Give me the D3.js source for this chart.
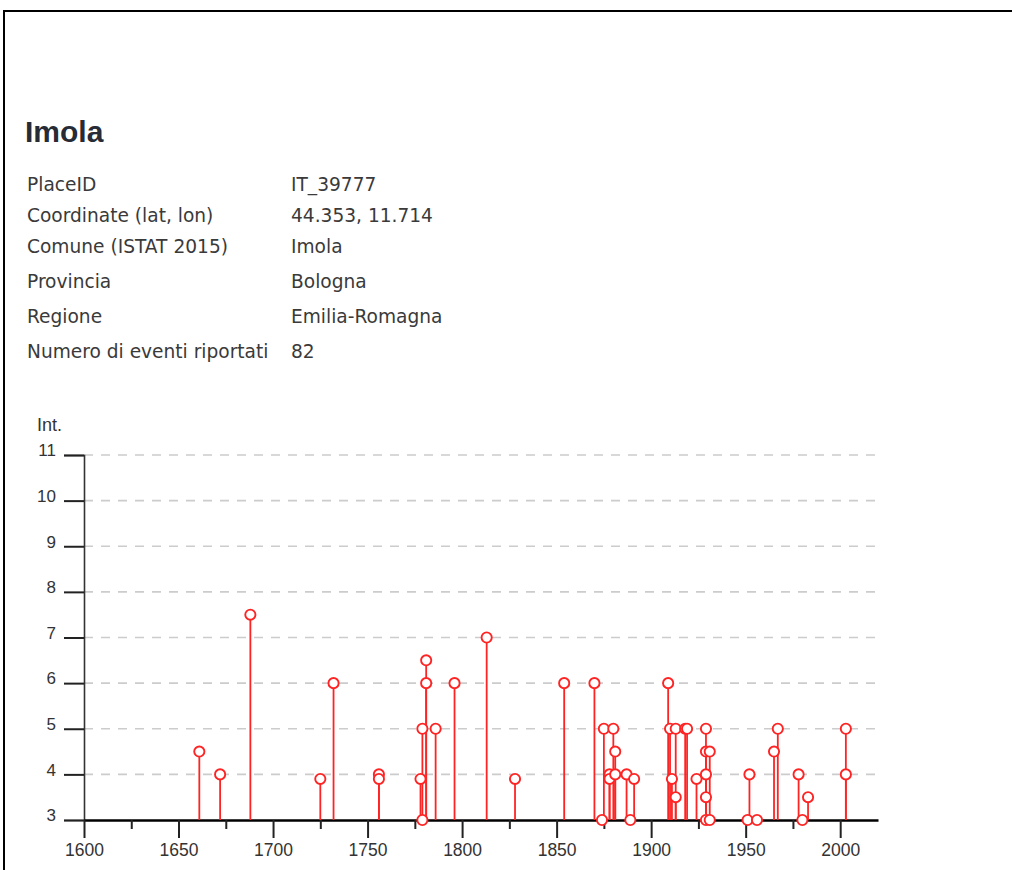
<!DOCTYPE html>
<html>
<head>
<meta charset="utf-8">
<script src="https://cdn.jsdelivr.net/npm/d3@7"></script>
<style>
  html, body { margin: 0; padding: 0; width: 1012px; height: 870px; overflow: hidden; background: #fff; }
  #frame { position: absolute; left: 3px; top: 10px; width: 1100px; height: 1000px; border: 2px solid #000; }
  svg { position: absolute; left: 0; top: 0; }
</style>
</head>
<body>
<div id="frame"></div>
<svg id="chart" width="1012" height="870"></svg>
<script>
// ---- data ----
const placeName = "Imola";
const infoLabels = ["PlaceID", "Coordinate (lat, lon)", "Comune (ISTAT 2015)", "Provincia", "Regione", "Numero di eventi riportati"];
const infoValues = ["IT_39777", "44.353, 11.714", "Imola", "Bologna", "Emilia-Romagna", "82"];

const eventYears = [1661, 1672, 1688, 1725, 1732, 1756, 1756, 1778, 1779, 1779, 1781, 1781, 1786, 1796, 1813, 1828,
  1854, 1870, 1874, 1875, 1878, 1878, 1880, 1881, 1881, 1887, 1889, 1891,
  1909, 1910, 1911, 1913, 1913, 1918, 1919, 1924, 1929, 1929, 1929, 1929, 1929, 1931, 1931,
  1951, 1952, 1956, 1965, 1967, 1978, 1980, 1983, 2003, 2003];
const eventIntensities = [4.5, 4, 7.5, 3.9, 6, 4, 3.9, 3.9, 5, 3, 6.5, 6, 5, 6, 7, 3.9,
  6, 6, 3, 5, 4, 3.9, 5, 4.5, 4, 4, 3, 3.9,
  6, 5, 3.9, 3.5, 5, 5, 5, 3.9, 5, 4.5, 4, 3.5, 3, 4.5, 3,
  3, 4, 3, 4.5, 5, 4, 3, 3.5, 5, 4];

const yTickValues = [3, 4, 5, 6, 7, 8, 9, 10, 11];
const xMajorTicks = [1600, 1650, 1700, 1750, 1800, 1850, 1900, 1950, 2000];
const xMinorTicks = [1625, 1675, 1725, 1775, 1825, 1875, 1925, 1975];
const xDomain = [1600, 2020];
const yDomain = [3, 11];
const yAxisLabel = "Int.";

// ---- drawing ----
const svg = d3.select("#chart");

svg.append("text").attr("x", 25).attr("y", 142)
  .attr("font-family", "'Liberation Sans', Arial, sans-serif")
  .attr("font-weight", "bold").attr("font-size", 30).attr("fill", "#262b35")
  .text(placeName);

const rowY = [191, 222, 253, 288, 323, 358];
const info = svg.append("g").attr("font-family", "'DejaVu Sans', Verdana, sans-serif")
  .attr("font-size", 18.6).attr("fill", "#3a3a3a");
infoLabels.forEach((l, i) => {
  info.append("text").attr("x", 27).attr("y", rowY[i]).text(l);
  info.append("text").attr("x", 291).attr("y", rowY[i]).text(infoValues[i]);
});

const x = d3.scaleLinear().domain(xDomain).range([84, 878]);
const y = d3.scaleLinear().domain(yDomain).range([820, 455]);

const font = "'Liberation Sans', Arial, sans-serif";

// grid
svg.append("g").selectAll("line").data(yTickValues.filter(v => v > 3)).join("line")
  .attr("x1", x(1600)).attr("x2", x(2020))
  .attr("y1", d => y(d)).attr("y2", d => y(d))
  .attr("stroke", "#cccccc").attr("stroke-width", 1.6).attr("stroke-dasharray", "9,8");

// y axis
const yAxis = svg.append("g").attr("transform", `translate(${x(1600)},0)`)
  .call(d3.axisLeft(y).tickValues(yTickValues).tickSize(20).tickPadding(8).tickFormat(d3.format("d")));
yAxis.select(".domain").attr("stroke", "#333").attr("stroke-width", 1.6);
yAxis.selectAll(".tick line").attr("stroke", "#222").attr("stroke-width", 2);
yAxis.selectAll(".tick text").attr("font-family", font).attr("font-size", 17).attr("fill", "#333")
  .attr("dy", "0.05em");

svg.append("text").attr("x", 37).attr("y", 431).attr("font-family", font)
  .attr("font-size", 18).attr("fill", "#333").text(yAxisLabel);

// x axis
const xAxis = svg.append("g").attr("transform", `translate(0,${y(3)})`)
  .call(d3.axisBottom(x).tickValues(xMajorTicks).tickSize(18).tickSizeOuter(0).tickPadding(6).tickFormat(d3.format("d")));
xAxis.select(".domain").attr("stroke", "#000").attr("stroke-width", 2.4);
xAxis.selectAll(".tick line").attr("stroke", "#222").attr("stroke-width", 2);
xAxis.selectAll(".tick text").attr("font-family", font).attr("font-size", 17.5).attr("fill", "#333");
svg.append("g").attr("transform", `translate(0,${y(3)})`)
  .call(d3.axisBottom(x).tickValues(xMinorTicks).tickSize(9).tickFormat(""))
  .call(g => g.select(".domain").remove())
  .selectAll(".tick line").attr("stroke", "#222").attr("stroke-width", 2);

// events
const events = eventYears.map((yr, i) => ({ year: yr, int: eventIntensities[i] }));
const red = "#ff2424";
svg.append("g").selectAll("line").data(events).join("line")
  .attr("x1", d => x(d.year)).attr("x2", d => x(d.year))
  .attr("y1", y(3)).attr("y2", d => y(d.int))
  .attr("stroke", red).attr("stroke-width", 1.8);
svg.append("g").selectAll("circle").data(events).join("circle")
  .attr("cx", d => x(d.year)).attr("cy", d => y(d.int)).attr("r", 5.1)
  .attr("fill", "#fff").attr("stroke", red).attr("stroke-width", 1.9);
</script>
</body>
</html>
